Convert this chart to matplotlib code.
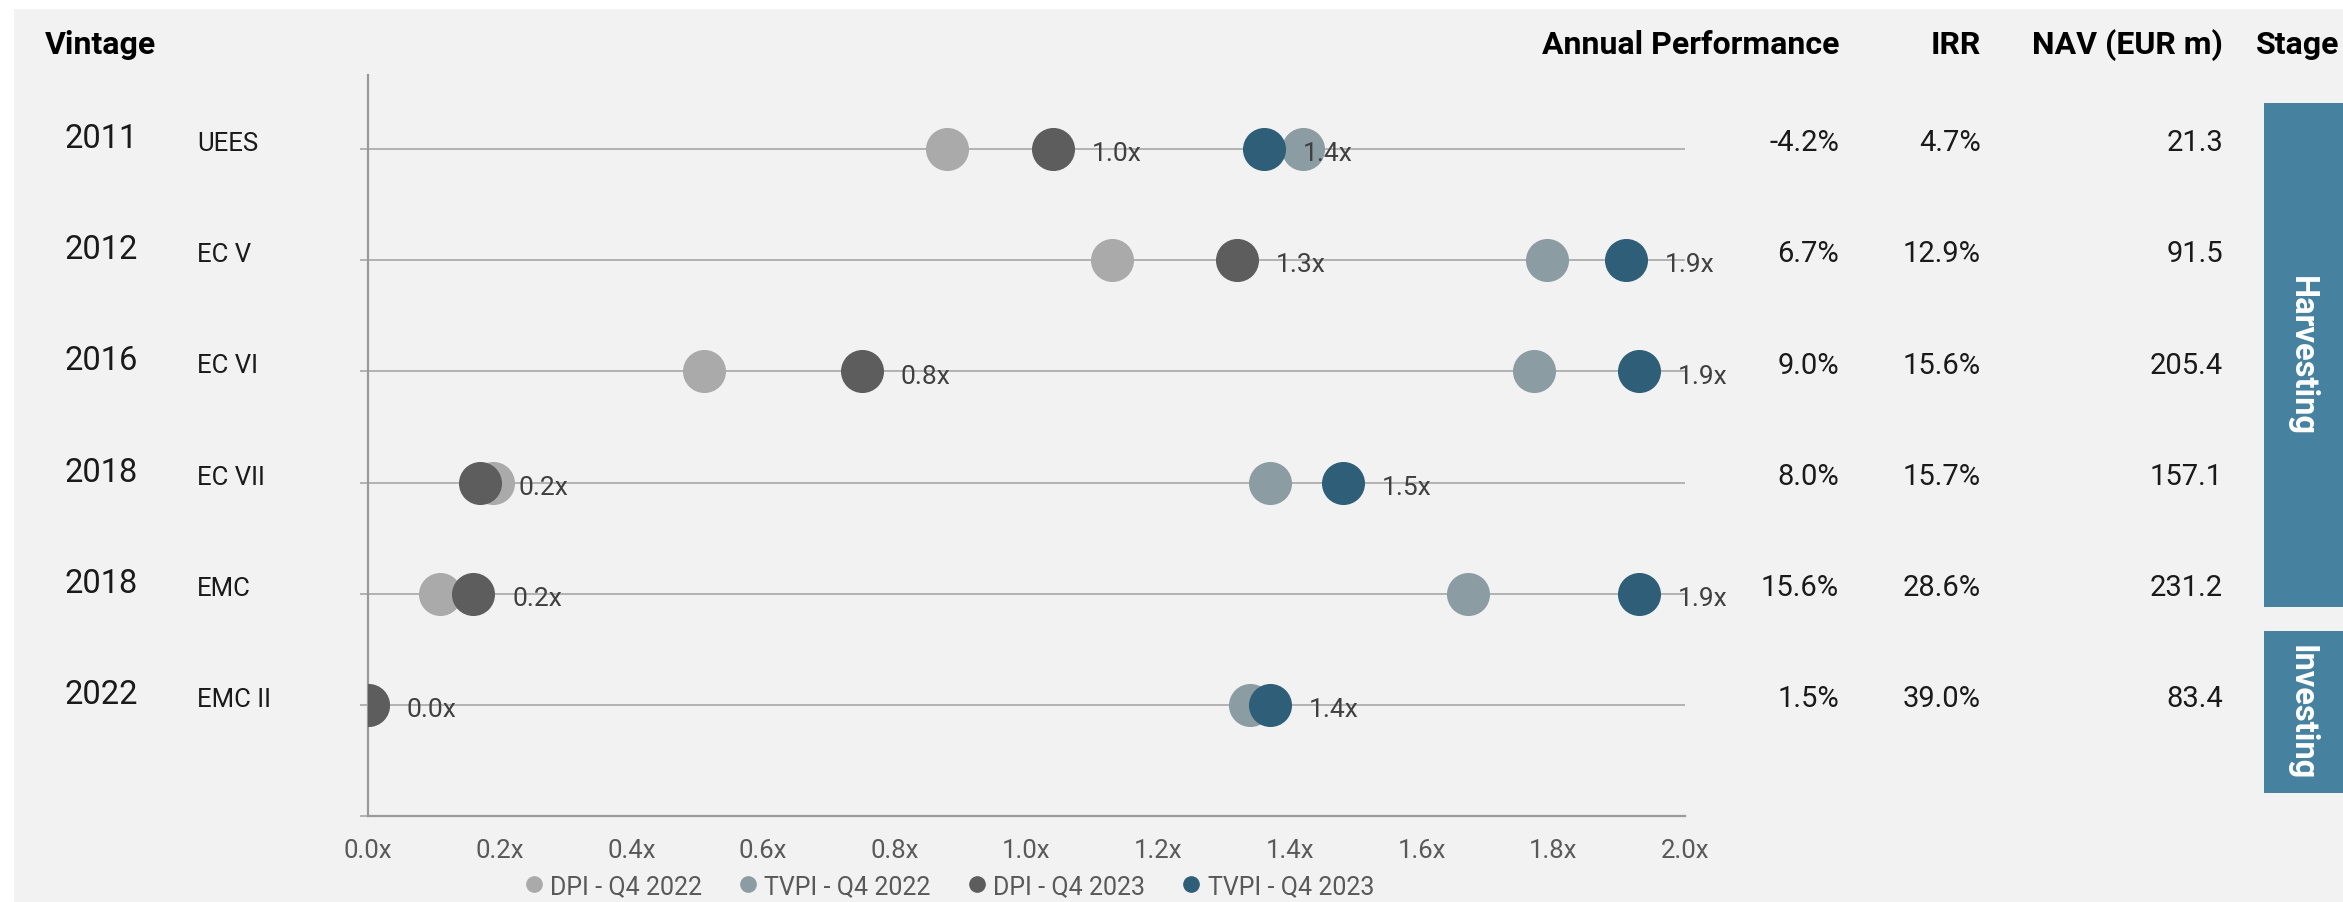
import matplotlib
matplotlib.use("Agg")
import matplotlib.pyplot as plt
import matplotlib.transforms as mtransforms
from matplotlib.lines import Line2D
from matplotlib.patches import Rectangle

plt.rcParams['font.family'] = ['Roboto', 'DejaVu Sans']

# data
vintages = ["2011", "2012", "2016", "2018", "2018", "2022"]
funds = ["UEES", "EC V", "EC VI", "EC VII", "EMC", "EMC II"]
dpi_2022 = [0.88, 1.13, 0.51, 0.19, 0.11, 0.0]
tvpi_2022 = [1.42, 1.79, 1.77, 1.37, 1.67, 1.34]
dpi_2023 = [1.04, 1.32, 0.75, 0.17, 0.16, 0.0]
tvpi_2023 = [1.36, 1.91, 1.93, 1.48, 1.93, 1.37]
annual_perf = ["-4.2%", "6.7%", "9.0%", "8.0%", "15.6%", "1.5%"]
irr = ["4.7%", "12.9%", "15.6%", "15.7%", "28.6%", "39.0%"]
nav = ["21.3", "91.5", "205.4", "157.1", "231.2", "83.4"]
stages = [("Harvesting", 104, 608), ("Investing", 632, 794)]

series = [
    ("DPI - Q4 2022", dpi_2022, "#aaaaaa", False),
    ("TVPI - Q4 2022", tvpi_2022, "#8b9ca3", False),
    ("DPI - Q4 2023", dpi_2023, "#5d5d5d", True),
    ("TVPI - Q4 2023", tvpi_2023, "#2f5f78", True),
]

W, H = 2343, 903
def fx(px):
    return px / W
def fy(py):
    return 1 - py / H

fig = plt.figure(figsize=(W / 100, H / 100), dpi=100, facecolor="white")
# grey panel behind everything
fig.patches.append(Rectangle((fx(14), 0), 1 - fx(14), fy(10), transform=fig.transFigure,
                             facecolor="#f2f2f2", edgecolor="none", zorder=-2))

ax = fig.add_axes([fx(368), fy(817), (1685 - 368) / W, (817 - 76) / H])
ax.set_facecolor("none")
ax.set_zorder(2)
rows = list(range(len(funds)))

ax.set_xlim(0, 2.0)
ax.set_ylim(6, -0.667)
ax.set_xticks([i * 0.2 for i in range(11)])
ax.set_xticklabels([f"{i * 0.2:.1f}x" for i in range(11)])
ax.set_yticks(list(range(7)))
ax.set_yticklabels([])
ax.tick_params(axis="x", length=0, pad=16, labelsize=18.5, labelcolor="#595959")
ax.tick_params(axis="y", length=5.8, width=1.1, color="#a0a0a0", direction="out")
ax.grid(axis="y", color="#a0a0a0", linewidth=1.1, zorder=1)
ax.set_axisbelow(True)
for s in ["top", "right"]:
    ax.spines[s].set_visible(False)
for s in ["left", "bottom"]:
    ax.spines[s].set_color("#999999")
    ax.spines[s].set_linewidth(1.6)

for name, vals, col, labelled in series:
    ax.plot(vals, rows, "o", color=col, ms=31, mec=col, mew=0, ls="", zorder=3)
    if labelled:
        for v, r in zip(vals, rows):
            ax.annotate(f"{v:.1f}x", (v, r), xytext=(28, -8), textcoords="offset points",
                        ha="left", va="baseline", fontsize=19, color="#404040", zorder=4)

# table text
trans = mtransforms.blended_transform_factory(fig.transFigure, ax.transData)
hdr = dict(fontsize=23, fontweight="bold", color="black", va="baseline")
fig.text(fx(45), fy(54), "Vintage", ha="left", **hdr)
fig.text(fx(1839), fy(54), "Annual Performance", ha="right", **hdr)
fig.text(fx(1981), fy(54), "IRR", ha="right", **hdr)
fig.text(fx(2223), fy(54), "NAV (EUR m)", ha="right", **hdr)
fig.text(fx(2256), fy(54), "Stage", ha="left", **hdr)

for r in rows:
    fig.text(fx(64), r - 0.018, vintages[r], transform=trans, ha="left", va="baseline",
             fontsize=23.5, color="#1a1a1a")
    fig.text(fx(197), r + 0.009, funds[r], transform=trans, ha="left", va="baseline",
             fontsize=18.5, color="#1a1a1a")
    fig.text(fx(1839), r + 0.01, annual_perf[r], transform=trans, ha="right", va="baseline",
             fontsize=21, color="#1a1a1a")
    fig.text(fx(1981), r + 0.01, irr[r], transform=trans, ha="right", va="baseline",
             fontsize=21, color="#1a1a1a")
    fig.text(fx(2223), r + 0.01, nav[r], transform=trans, ha="right", va="baseline",
             fontsize=21, color="#1a1a1a")

# stage boxes
for label, top, bottom in stages:
    fig.patches.append(Rectangle((fx(2264), fy(bottom)), 1 - fx(2264), (bottom - top) / H,
                                 transform=fig.transFigure, facecolor="#4682a0",
                                 edgecolor="none", zorder=-1))
    fig.text(fx(2302), fy((top + bottom) / 2), label, rotation=270, ha="center", va="center",
             fontsize=23.5, fontweight="bold", color="white")

handles = [Line2D([], [], marker="o", ls="", color=c, ms=11) for _, _, c, _ in series]
fig.legend(handles, [s[0] for s in series], loc="center", bbox_to_anchor=(fx(950), fy(887)),
           ncol=4, frameon=False, fontsize=18, handlelength=0.6, handletextpad=0.35,
           columnspacing=1.55, labelcolor="#595959", borderaxespad=0, borderpad=0)

fig.savefig("out.png", dpi=100, facecolor="white")
